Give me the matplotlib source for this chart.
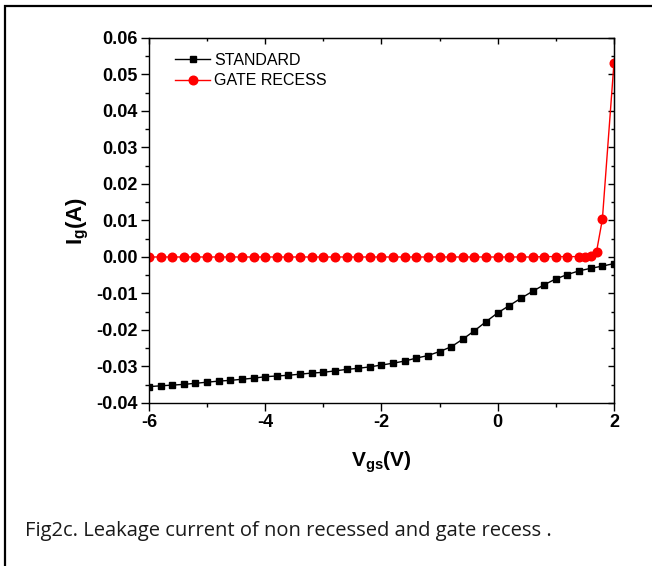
import matplotlib
matplotlib.use("Agg")
import matplotlib.pyplot as plt
from matplotlib.patches import Rectangle
from matplotlib.ticker import MultipleLocator, FormatStrFormatter

plt.rcParams['font.family'] = ['Liberation Sans', 'DejaVu Sans']
plt.rcParams['axes.unicode_minus'] = False
plt.rcParams['mathtext.fontset'] = 'custom'
plt.rcParams['mathtext.rm'] = 'Liberation Sans'
plt.rcParams['mathtext.bf'] = 'Liberation Sans:bold'

# STANDARD device, Vgs from -6 to 2 V in 0.2 V steps
std_vgs = [-6.0, -5.8, -5.6, -5.4, -5.2, -5.0, -4.8, -4.6, -4.4, -4.2,
           -4.0, -3.8, -3.6, -3.4, -3.2, -3.0, -2.8, -2.6, -2.4, -2.2,
           -2.0, -1.8, -1.6, -1.4, -1.2, -1.0, -0.8, -0.6, -0.4, -0.2,
           0.0, 0.2, 0.4, 0.6, 0.8, 1.0, 1.2, 1.4, 1.6, 1.8, 2.0]
std_ig = [-0.0355, -0.0353, -0.0351, -0.0349, -0.0346, -0.0343, -0.0340, -0.0338, -0.0335, -0.0332,
          -0.0328, -0.0326, -0.0324, -0.0321, -0.0318, -0.0316, -0.0312, -0.0308, -0.0305, -0.0301,
          -0.0296, -0.0291, -0.0285, -0.0277, -0.0270, -0.0259, -0.0246, -0.0225, -0.0202, -0.0177,
          -0.0153, -0.0133, -0.0113, -0.0094, -0.0076, -0.0060, -0.0048, -0.0038, -0.0031, -0.0025,
          -0.0018]

# GATE RECESS device
gr_vgs = [-6.0, -5.8, -5.6, -5.4, -5.2, -5.0, -4.8, -4.6, -4.4, -4.2,
          -4.0, -3.8, -3.6, -3.4, -3.2, -3.0, -2.8, -2.6, -2.4, -2.2,
          -2.0, -1.8, -1.6, -1.4, -1.2, -1.0, -0.8, -0.6, -0.4, -0.2,
          0.0, 0.2, 0.4, 0.6, 0.8, 1.0, 1.2, 1.4, 1.5, 1.6, 1.7, 1.8, 2.0]
gr_ig = [0.0, 0.0, 0.0, 0.0, 0.0, 0.0, 0.0, 0.0, 0.0, 0.0,
         0.0, 0.0, 0.0, 0.0, 0.0, 0.0, 0.0, 0.0, 0.0, 0.0,
         0.0, 0.0, 0.0, 0.0, 0.0, 0.0, 0.0, 0.0, 0.0, 0.0,
         0.0, 0.0, 0.0, 0.0, 0.0001, 0.0001, 0.0001, 0.0001, 0.0001, 0.0002, 0.0015, 0.0103, 0.0532]

fig = plt.figure(figsize=(6.52, 5.66), dpi=100)
ax = fig.add_axes([0.2285, 0.288, 0.7132, 0.6449])

ax.plot(std_vgs, std_ig, color='black', lw=1, marker='s', ms=5, label='STANDARD')
ax.plot(gr_vgs, gr_ig, color='red', lw=1, marker='o', ms=6.2, label='GATE RECESS')

ax.set_xlim(-6, 2)
ax.set_ylim(-0.04, 0.06)
ax.xaxis.set_major_locator(MultipleLocator(2))
ax.xaxis.set_minor_locator(MultipleLocator(1))
ax.yaxis.set_major_locator(MultipleLocator(0.01))
ax.yaxis.set_minor_locator(MultipleLocator(0.005))
ax.yaxis.set_major_formatter(FormatStrFormatter('%.2f'))
ax.tick_params(which='both', direction='out', top=False, right=False, width=1)
ax.tick_params(which='major', length=6, labelsize=13, pad=2)
ax.tick_params(which='minor', length=3)
for lab in ax.get_xticklabels() + ax.get_yticklabels():
    lab.set_fontweight('bold')

# inward ticks on the top and right frame
ax_top = ax.secondary_xaxis('top')
ax_top.xaxis.set_major_locator(MultipleLocator(2))
ax_top.xaxis.set_minor_locator(MultipleLocator(1))
ax_top.tick_params(which='both', direction='in', labeltop=False, width=1)
ax_top.tick_params(which='major', length=4)
ax_top.tick_params(which='minor', length=2)
ax_right = ax.secondary_yaxis('right')
ax_right.yaxis.set_major_locator(MultipleLocator(0.01))
ax_right.yaxis.set_minor_locator(MultipleLocator(0.005))
ax_right.tick_params(which='both', direction='in', labelright=False, width=1)
ax_right.tick_params(which='major', length=4)
ax_right.tick_params(which='minor', length=2)

for s in ax.spines.values():
    s.set_linewidth(1)

ax.set_xlabel(r'$\mathbf{V_{gs}}$(V)', fontsize=15, fontweight='bold', labelpad=13)
ax.set_ylabel(r'$\mathbf{I_{g}}$(A)', fontsize=16, fontweight='bold', labelpad=4)

ax.legend(loc='upper left', bbox_to_anchor=(0.056, 0.96), frameon=False, fontsize=11.5,
          handlelength=2.2, handletextpad=0.25, labelspacing=0.35, borderpad=0,
          borderaxespad=0)

fig.text(25 / 652, 1 - 536 / 566, 'Fig2c. Leakage current of non recessed and gate recess .',
         fontsize=14.5, family='Open Sans', color='#1a1a1a', va='baseline')
fig.patches.append(Rectangle((5 / 652, -0.05), 1.2, 1 - 6 / 566 + 0.05, transform=fig.transFigure,
                             fill=False, edgecolor='black', lw=1.6, clip_on=False))

fig.savefig('out.png', dpi=100)
